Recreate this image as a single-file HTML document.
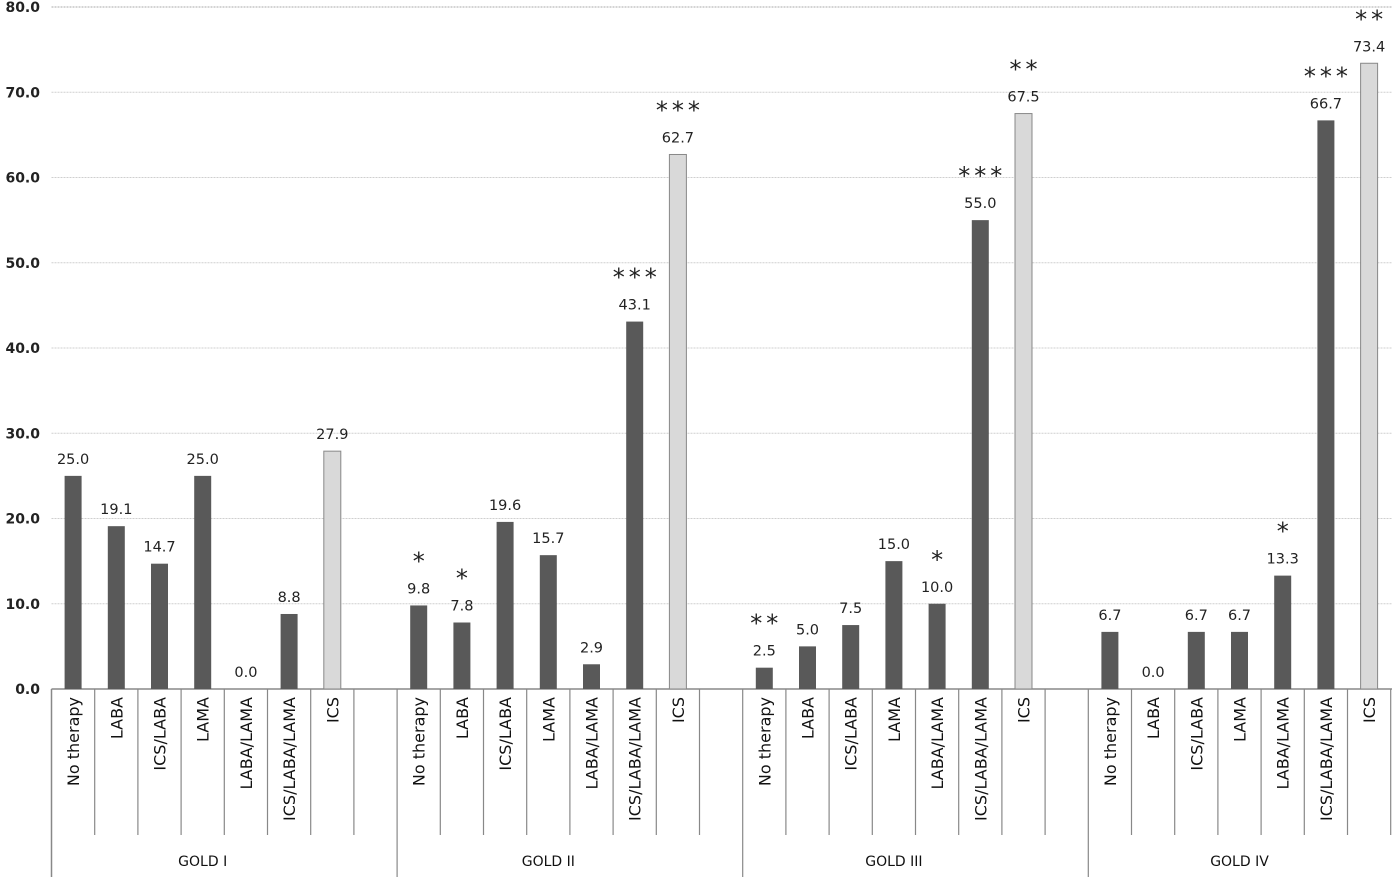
<!DOCTYPE html>
<html><head><meta charset="utf-8"><style>
body{margin:0;background:#fff}
svg{display:block;font-family:"DejaVu Sans","Liberation Sans",sans-serif}
</style></head><body>
<svg id="c" width="1395" height="877" viewBox="0 0 1395 877"></svg>
<script>
const groups=["GOLD I","GOLD II","GOLD III","GOLD IV"];
const therapies=["No therapy","LABA","ICS/LABA","LAMA","LABA/LAMA","ICS/LABA/LAMA","ICS"];
const valuesG1=[25.0,19.1,14.7,25.0,0.0,8.8,27.9];
const valuesG2=[9.8,7.8,19.6,15.7,2.9,43.1,62.7];
const valuesG3=[2.5,5.0,7.5,15.0,10.0,55.0,67.5];
const valuesG4=[6.7,0.0,6.7,6.7,13.3,66.7,73.4];
const starsG1=["","","","","","",""];
const starsG2=["*","*","","","","***","***"];
const starsG3=["**","","","","*","***","**"];
const starsG4=["","","","","*","***","**"];
const yTicks=[0,10,20,30,40,50,60,70,80];
const values=[valuesG1,valuesG2,valuesG3,valuesG4];
const stars=[starsG1,starsG2,starsG3,starsG4];
const NS="http://www.w3.org/2000/svg";
const svg=document.getElementById('c');
const x0=51.5,slot=43.2,y0=689,yTop=7;
const y=v=>y0-(v/80)*(y0-yTop);
const sx=i=>x0+i*slot;
function mk(t,a,txt){const e=document.createElementNS(NS,t);for(const k in a)e.setAttribute(k,a[k]);if(txt!==undefined)e.textContent=txt;svg.appendChild(e);return e;}
yTicks.forEach(t=>{
  if(t>0){const g=mk('line',{x1:x0,x2:1392,y1:y(t),y2:y(t),stroke:t===80?'#aaa':'#cfcfcf','stroke-width':1,'stroke-dasharray':'2,1'});
  
  }
  const l=mk('text',{x:40,y:y(t)+5,'text-anchor':'end','font-size':14,'font-weight':'bold',fill:'#222'},t.toFixed(1));
  
  
});
const ax=mk('line',{x1:x0,x2:1392,y1:y0,y2:y0,stroke:'#888','stroke-width':1.5});


mk('line',{x1:x0,x2:x0,y1:y0,y2:877,stroke:'#888','stroke-width':1.5});
groups.forEach((g,gi)=>{
  const base=gi*8;
  values[gi].forEach((v,i)=>{
    const s=base+i, cx=sx(s)+slot/2, light=i===6;
    const r=mk('rect',{x:cx-8.5,y:y(v),width:17,height:y0-y(v),fill:light?'#d9d9d9':'#595959',stroke:light?'#888':'none','stroke-width':1});
    
    
    const vl=mk('text',{x:cx,y:y(v)-12,'text-anchor':'middle','font-size':14.5,fill:'#222'},v.toFixed(1));
    
    
    if(stars[gi][i]){
      const st=mk('text',{x:cx+2,y:y(v)-36,'text-anchor':'middle','font-size':24,fill:'#222','letter-spacing':4},stars[gi][i]);
      
      
    }
    const tl=mk('text',{transform:`translate(${cx+6},${y0+8}) rotate(-90)`,'text-anchor':'end','font-size':16,fill:'#111'},therapies[i]);
    
    
    mk('line',{x1:sx(s+1),x2:sx(s+1),y1:y0,y2:835,stroke:'#888','stroke-width':1.2});
  });
  const end=gi<3?sx(base+8):1392;
  if(gi<3)mk('line',{x1:end,x2:end,y1:y0,y2:877,stroke:'#888','stroke-width':1.2});
  const gl=mk('text',{x:(sx(base)+sx(base+7))/2,y:866,'text-anchor':'middle','font-size':14,fill:'#111'},g);
  
  
});
</script>
</body></html>
